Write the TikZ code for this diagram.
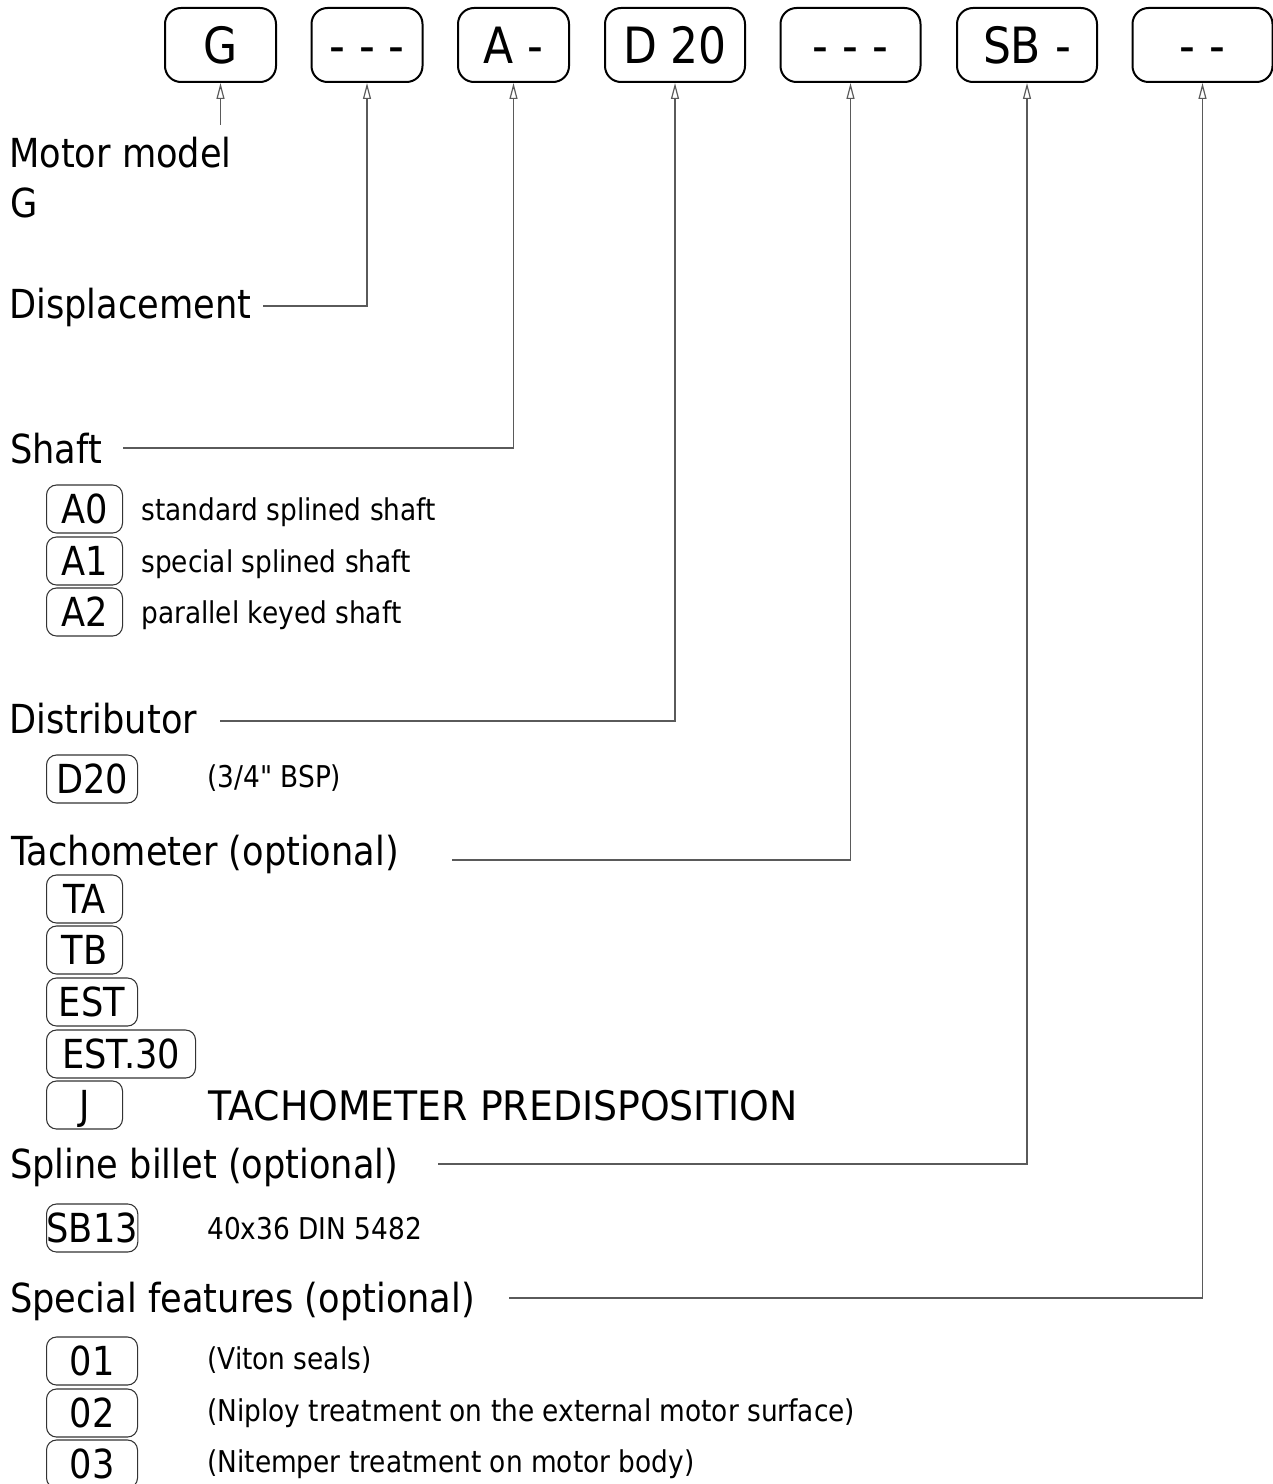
\documentclass[tikz,border=0pt]{standalone}
\usepackage{fontspec}
\setmainfont{DejaVu Sans}[FakeStretch=0.88]
\newfontfamily\widecaps{DejaVu Sans}[FakeStretch=0.93]
\newfontfamily\straightq{DejaVu Sans}[FakeStretch=0.88, Ligatures=TeXOff]
\usetikzlibrary{arrows.meta}
\definecolor{conncol}{HTML}{5A5A5A}
\definecolor{boxcol}{HTML}{333333}
\begin{document}
\begin{tikzpicture}[x=0.75pt,y=-0.75pt,
  topbox/.style={draw=black, line width=1.5pt, rounded corners=12pt, minimum height=55.5pt, inner sep=0pt, text height=27.3pt, text depth=0pt, font=\fontsize{37.5pt}{40pt}\selectfont},
  topw/.style={minimum width=83.25pt},
  topW/.style={minimum width=105pt},
  optbox/.style={draw=boxcol, line width=0.8pt, rounded corners=7.5pt, minimum height=36pt, inner sep=0pt, text height=21.9pt, text depth=0pt, anchor=west, font=\fontsize{30pt}{36pt}\selectfont},
  ow/.style={minimum width=57pt},
  oW/.style={minimum width=68.25pt},
  oWW/.style={minimum width=111.75pt},
  biglabel/.style={anchor=base west, inner sep=0pt, font=\fontsize{30pt}{36pt}\selectfont},
  desc/.style={anchor=base west, inner sep=0pt, font=\fontsize{22.5pt}{27pt}\selectfont},
  conn/.style={draw=conncol, line width=0.9pt, -{Triangle[open, length=12pt, width=6pt]}},
]
\useasboundingbox (0,0) rectangle (1273,1484);

% top code boxes
\node[topbox,topw] (bG)   at (220.5,45) {G};
\node[topbox,topw] (bDisp) at (367,45) {- - -};
\node[topbox,topw] (bA)   at (513.5,45) {A -};
\node[topbox,topW] (bD)   at (675,45) {D 20};
\node[topbox,topW] (bT)   at (850.5,45) {- - -};
\node[topbox,topW] (bSB)  at (1027,45) {SB -};
\node[topbox,topW] (bSp)  at (1202.5,45) {- -};

% section labels
\node[biglabel] (lMotor) at (9,167) {Motor model};
\node[biglabel] (lG) at (10,217) {G};
\node[biglabel] (lDisp) at (9,318) {Displacement};
\node[biglabel] (lShaft) at (10,463) {Shaft};
\node[biglabel] (lDist) at (9,733) {Distributor};
\node[biglabel] (lTach) at (11,865) {Tachometer (optional)};
\node[biglabel] (lSpl) at (10,1178) {Spline billet (optional)};
\node[biglabel] (lSpec) at (10,1312) {Special features (optional)};

% connector start points
\coordinate (cG) at (220.5,125);
\coordinate (cDisp) at (263,306);
\coordinate (cShaft) at (123,448);
\coordinate (cDist) at (220,721);
\coordinate (cTach) at (452,860);
\coordinate (cSpl) at (438,1164);
\coordinate (cSpec) at (509,1298);

\draw[conn] (cG) -- (bG.south);
\draw[conn] (cDisp) -| (bDisp.south);
\draw[conn] (cShaft) -| (bA.south);
\draw[conn] (cDist) -| (bD.south);
\draw[conn] (cTach) -| (bT.south);
\draw[conn] (cSpl) -| (bSB.south);
\draw[conn] (cSpec) -| (bSp.south);

% shaft options
\node[optbox,ow] (oA0) at (46,509) {A0};
\node[optbox,ow] (oA1) at (46,561) {A1};
\node[optbox,ow] (oA2) at (46,612) {A2};
\node[desc] (dA0) at (141,520) {standard splined shaft};
\node[desc] (dA1) at (141,572) {special splined shaft};
\node[desc] (dA2) at (141,623) {parallel keyed shaft};

% distributor
\node[optbox,oW] (oD20) at (46,779) {D20};
\node[desc] (dD20) at (207,787) {(3/4{\straightq"} BSP)};

% tachometer
\node[optbox,ow] (oTA) at (46,899) {TA};
\node[optbox,ow] (oTB) at (46,950) {TB};
\node[optbox,oW] (oEST) at (46,1002) {EST};
\node[optbox,oWW] (oEST30) at (46,1054) {EST.30};
\node[optbox,ow] (oJ) at (46,1105) {J};
\node[biglabel, font=\widecaps\fontsize{30.5pt}{36pt}\selectfont] (dJ) at (208,1120) {TACHOMETER PREDISPOSITION};

% spline billet
\node[optbox,oW] (oSB13) at (46,1228) {SB13};
\node[desc] (dSB13) at (207,1239) {40x36 DIN 5482};

% special features
\node[optbox,oW] (o01) at (46,1361) {01};
\node[optbox,oW] (o02) at (46,1413) {02};
\node[optbox,oW] (o03) at (46,1464) {03};
\node[desc] (d01) at (207,1369) {(Viton seals)};
\node[desc] (d02) at (207,1421) {(Niploy treatment on the external motor surface)};
\node[desc] (d03) at (207,1472) {(Nitemper treatment on motor body)};
\end{tikzpicture}
\end{document}
